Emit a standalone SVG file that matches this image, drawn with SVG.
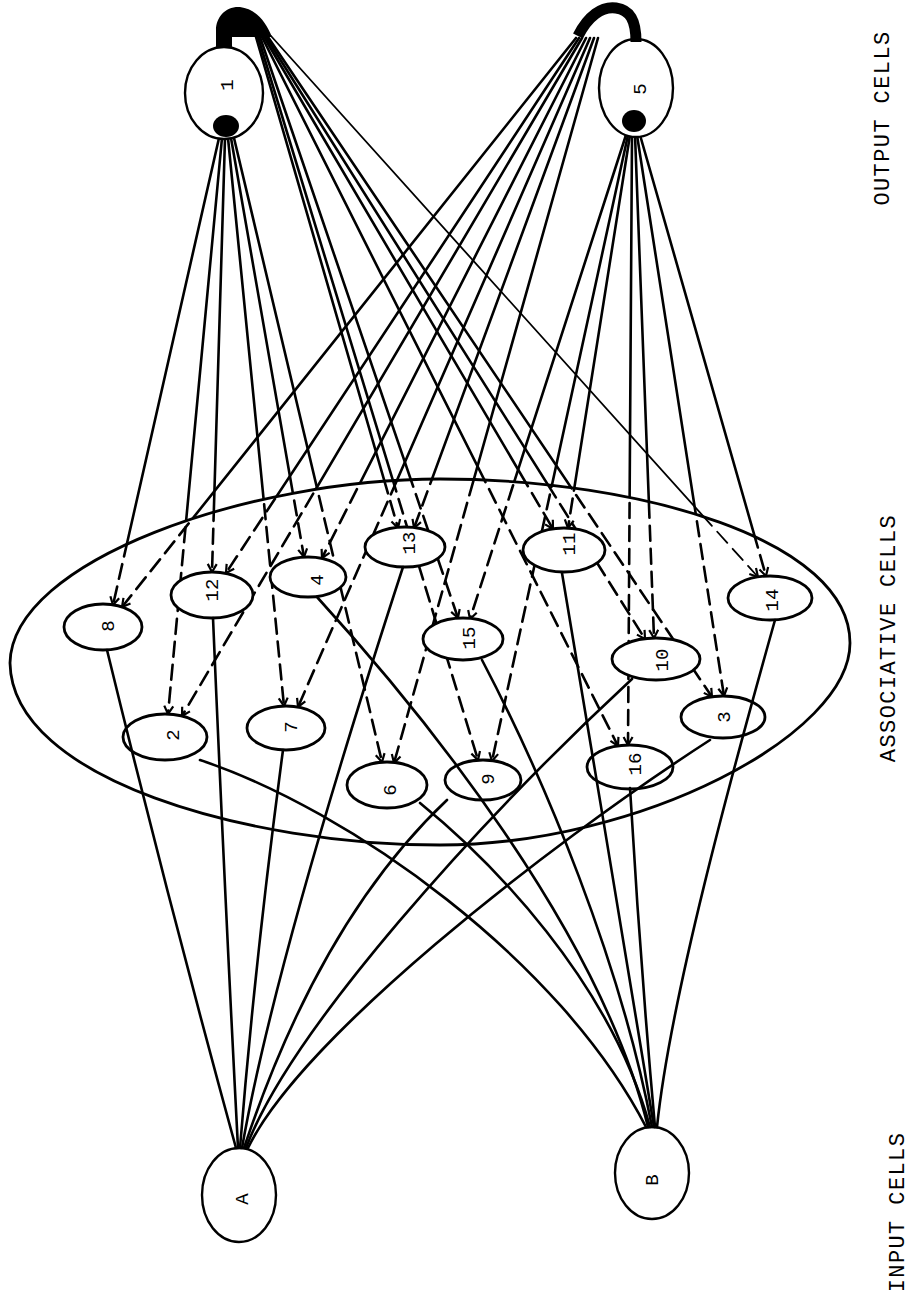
<svg xmlns="http://www.w3.org/2000/svg" width="915" height="1295" viewBox="0 0 915 1295">
<style>
.cell{fill:#fff;stroke:#000;stroke-width:2.8}
.io{fill:#fff;stroke:#000;stroke-width:2.4}
.lbl{font-family:"Liberation Mono","DejaVu Sans Mono",monospace;font-size:19px;fill:#000;text-anchor:middle;dominant-baseline:central}
.cap{font-family:"Liberation Mono","DejaVu Sans Mono",monospace;font-size:22px;letter-spacing:1.4px;fill:#000;text-anchor:middle;dominant-baseline:central}
.w{fill:none;stroke:#000;stroke-width:2.6;stroke-linecap:round}
.dash{stroke-dasharray:15 8;marker-end:url(#arr)}
.ink{fill:#000;stroke:none}
</style>
<defs>
<path id="region-shape" d="M 10 663 C 12 560 250 479 440 479 C 640 479 850 540 850 643 C 850 735 640 845 440 845 C 250 845 12 780 10 663 Z"/>
<clipPath id="inside"><use href="#region-shape"/></clipPath>
<mask id="outside" maskUnits="userSpaceOnUse" x="0" y="0" width="915" height="1295">
<rect x="0" y="0" width="915" height="1295" fill="#fff"/>
<use href="#region-shape" fill="#000"/>
</mask>
<marker id="arr" viewBox="-10 -6 12 12" refX="0" refY="0" markerWidth="12" markerHeight="12" markerUnits="userSpaceOnUse" orient="auto">
<path d="M-8,-4.5 L0,0 L-8,4.5" fill="none" stroke="#000" stroke-width="2.2"/>
</marker>
<!-- feedback connections from output cells 1 and 5 -->
<path id="b8" d="M 219 138 L 113 605"/>
<path id="b2" d="M 222 138 L 168 714"/>
<path id="b12" d="M 225 138 L 212 572"/>
<path id="b7" d="M 228 138 L 284 706"/>
<path id="b4" d="M 231 138 L 304 557"/>
<path id="b6" d="M 234 138 L 382 762"/>
<path id="t13" d="M 256 37 L 398 528"/>
<path id="t9" d="M 258 37 L 478 760"/>
<path id="t15" d="M 260 37 L 458 618"/>
<path id="t16" d="M 262 37 L 618 746"/>
<path id="t11" d="M 264 37 L 553 529"/>
<path id="t10" d="M 266 37 L 645 639"/>
<path id="t3" d="M 268 37 L 712 697"/>
<path id="t14" d="M 271 36 L 758 577" stroke-width="1.8"/>
<path id="c15" d="M 626 135 L 470 619"/>
<path id="c9" d="M 628 135 L 492 761"/>
<path id="c11" d="M 630 135 L 568 528"/>
<path id="c16" d="M 632 135 L 628 745"/>
<path id="c10" d="M 635 135 L 654 638"/>
<path id="c3" d="M 637 135 L 724 696"/>
<path id="c14" d="M 640 135 L 766 576"/>
<path id="d8" d="M 576 38 L 122 607"/>
<path id="d12" d="M 579 38 L 226 573"/>
<path id="d2" d="M 582 38 L 182 716"/>
<path id="d4" d="M 586 38 L 322 558"/>
<path id="d7" d="M 590 38 L 298 707"/>
<path id="d13" d="M 594 38 L 414 528"/>
<path id="d6" d="M 598 38 L 394 763"/>
</defs>

<g id="assoc-region">
<use href="#region-shape" fill="none" stroke="#000" stroke-width="2.8"/>
</g>

<g id="connectors">
<g id="feedback-solid" class="w" mask="url(#outside)">
<use href="#b8"/><use href="#b2"/><use href="#b12"/><use href="#b7"/><use href="#b4"/><use href="#b6"/>
<use href="#t13"/><use href="#t9"/><use href="#t15"/><use href="#t16"/><use href="#t11"/><use href="#t10"/><use href="#t3"/><use href="#t14"/>
<use href="#c15"/><use href="#c9"/><use href="#c11"/><use href="#c16"/><use href="#c10"/><use href="#c3"/><use href="#c14"/>
<use href="#d8"/><use href="#d12"/><use href="#d2"/><use href="#d4"/><use href="#d7"/><use href="#d13"/><use href="#d6"/>
</g>
<g id="feedback-dashed" class="w dash" clip-path="url(#inside)">
<use href="#b8"/><use href="#b2"/><use href="#b12"/><use href="#b7"/><use href="#b4"/><use href="#b6"/>
<use href="#t13"/><use href="#t9"/><use href="#t15"/><use href="#t16"/><use href="#t11"/><use href="#t10"/><use href="#t3"/><use href="#t14"/>
<use href="#c15"/><use href="#c9"/><use href="#c11"/><use href="#c16"/><use href="#c10"/><use href="#c3"/><use href="#c14"/>
<use href="#d8"/><use href="#d12"/><use href="#d2"/><use href="#d4"/><use href="#d7"/><use href="#d13"/><use href="#d6"/>
</g>
</g>

<g id="node-1">
<ellipse class="io" cx="224" cy="93" rx="39" ry="46"/>
<path class="ink" d="M 216 48 L 232 48 L 232 37 L 272 37 C 266 22 256 9 240 7 C 226 6 216 17 216 30 Z"/>
<ellipse class="ink" cx="226" cy="126" rx="13" ry="11"/>
<text class="lbl" font-size="17" transform="translate(228,85) rotate(-90)">1</text>
</g>
<g id="node-5">
<ellipse class="io" cx="636" cy="88" rx="37" ry="49"/>
<path d="M 578 36 C 588 16 602 6 616 8 C 630 10 636 20 636 42" fill="none" stroke="#000" stroke-width="11" stroke-linecap="butt"/>
<ellipse class="ink" cx="634" cy="121" rx="12" ry="11"/>
<text class="lbl" font-size="17" transform="translate(641,89) rotate(-90)">5</text>
</g>
<g id="node-A">
<ellipse class="io" cx="239" cy="1195" rx="37" ry="47"/>
<text class="lbl" font-size="17" transform="translate(243,1199) rotate(-90)">A</text>
</g>
<g id="node-B">
<ellipse class="io" cx="652" cy="1173" rx="37" ry="46"/>
<text class="lbl" font-size="17" transform="translate(653,1180) rotate(-90)">B</text>
</g>

<g id="node-8"><ellipse class="cell" cx="103" cy="627" rx="39" ry="23"/><text class="lbl" transform="translate(109,626) rotate(-90)">8</text></g>
<g id="node-12"><ellipse class="cell" cx="212" cy="595" rx="41" ry="23"/><text class="lbl" transform="translate(213,590) rotate(-90)">12</text></g>
<g id="node-4"><ellipse class="cell" cx="308" cy="577" rx="38" ry="20"/><text class="lbl" transform="translate(318,580) rotate(-90)">4</text></g>
<g id="node-13"><ellipse class="cell" cx="405" cy="547" rx="40" ry="20"/><text class="lbl" transform="translate(410,543) rotate(-90)">13</text></g>
<g id="node-2"><ellipse class="cell" cx="165" cy="737" rx="42" ry="23"/><text class="lbl" transform="translate(174,735) rotate(-90)">2</text></g>
<g id="node-7"><ellipse class="cell" cx="286" cy="728" rx="39" ry="22"/><text class="lbl" transform="translate(292,727) rotate(-90)">7</text></g>
<g id="node-6"><ellipse class="cell" cx="387" cy="785" rx="40" ry="23"/><text class="lbl" transform="translate(391,790) rotate(-90)">6</text></g>
<g id="node-9"><ellipse class="cell" cx="483" cy="780" rx="38" ry="20"/><text class="lbl" transform="translate(489,779) rotate(-90)">9</text></g>
<g id="node-15"><ellipse class="cell" cx="463" cy="639" rx="40" ry="21"/><text class="lbl" transform="translate(470,638) rotate(-90)">15</text></g>
<g id="node-11"><ellipse class="cell" cx="564" cy="550" rx="41" ry="22"/><text class="lbl" transform="translate(570,544) rotate(-90)">11</text></g>
<g id="node-10"><ellipse class="cell" cx="656" cy="659" rx="44" ry="21"/><text class="lbl" transform="translate(663,660) rotate(-90)">10</text></g>
<g id="node-14"><ellipse class="cell" cx="770" cy="598" rx="42" ry="22"/><text class="lbl" transform="translate(773,600) rotate(-90)">14</text></g>
<g id="node-3"><ellipse class="cell" cx="723" cy="717" rx="42" ry="21"/><text class="lbl" transform="translate(725,717) rotate(-90)">3</text></g>
<g id="node-16"><ellipse class="cell" cx="630" cy="767" rx="43" ry="22"/><text class="lbl" transform="translate(636,764) rotate(-90)">16</text></g>

<g id="input-connectors" class="w">
<path d="M 107 650 Q 168 900 236 1148"/>
<path d="M 213 618 Q 225 900 238 1148"/>
<path d="M 283 750 Q 255 960 240 1148"/>
<path d="M 403 567 Q 275 960 242 1148"/>
<path d="M 447 800 Q 320 920 244 1148"/>
<path d="M 632 679 C 480 820 290 1030 246 1148"/>
<path d="M 710 740 C 540 850 300 1040 248 1148"/>
<path d="M 200 760 C 350 810 560 960 646 1127"/>
<path d="M 317 597 C 420 710 600 930 648 1127"/>
<path d="M 420 803 C 490 860 610 980 650 1127"/>
<path d="M 482 660 C 545 780 620 960 652 1127"/>
<path d="M 562 573 C 590 740 630 980 654 1127"/>
<path d="M 630 788 Q 640 960 655 1127"/>
<path d="M 775 620 C 730 780 670 1000 657 1127"/>
</g>

<g id="captions">
<text class="cap" transform="translate(883,118) rotate(-90)">OUTPUT CELLS</text>
<text class="cap" transform="translate(889,638) rotate(-90)">ASSOCIATIVE CELLS</text>
<text class="cap" transform="translate(898,1212) rotate(-90)">INPUT CELLS</text>
</g>
</svg>
